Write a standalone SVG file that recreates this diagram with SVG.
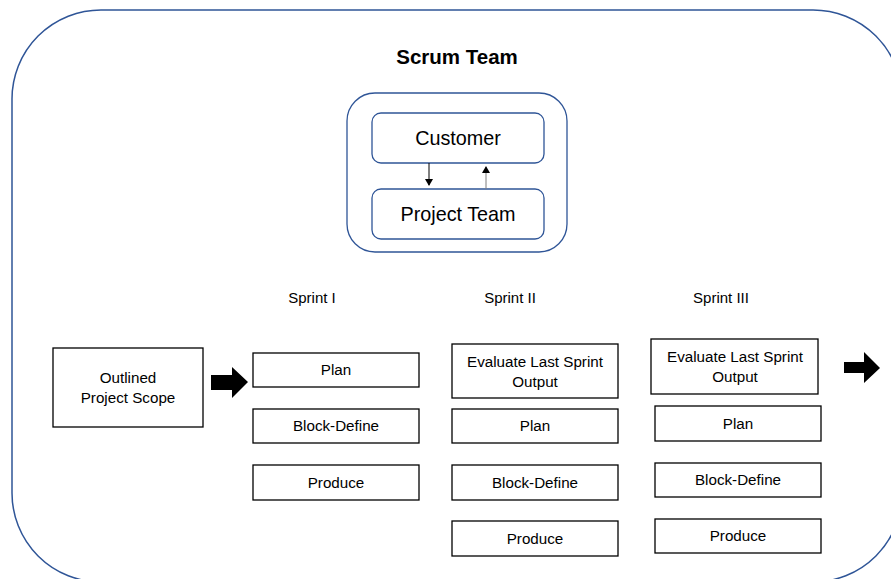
<svg xmlns="http://www.w3.org/2000/svg" width="891" height="579" viewBox="0 0 891 579">
  <style>
    .txt { font-family: "Liberation Sans", Arial, sans-serif; fill: #000; text-anchor: middle; }
    .box { fill: #fff; stroke: #000; stroke-width: 1.3; }
    .rbox { fill: #fff; stroke: #2F5597; stroke-width: 1.3; }
    .t14 { font-size: 15.2px; }
    .t19 { font-size: 19.8px; }
    .lbl { font-size: 15px; }
  </style>
  <defs>
    <marker id="ah" markerWidth="8" markerHeight="8" refX="6" refY="4" orient="auto" markerUnits="userSpaceOnUse">
      <path d="M0,0 L7,4 L0,8 Z" fill="#000"/>
    </marker>
  </defs>
  <rect width="891" height="579" fill="#fff"/>

  <!-- team boundary -->
  <g id="scrum-team">
    <rect x="12" y="10" width="890" height="572" rx="89" ry="89" fill="none" stroke="#2F5597" stroke-width="1.5"/>
    <text class="txt" x="457" y="64" font-size="20.5" font-weight="bold">Scrum Team</text>
  </g>

  <g id="core">
    <rect class="rbox" x="347" y="93" width="220" height="159" rx="28" ry="28"/>
  </g>
  <g id="customer">
    <rect class="rbox" x="372" y="113" width="172" height="50" rx="9" ry="9"/>
    <text class="txt t19" x="458" y="145">Customer</text>
  </g>
  <g id="project-team">
    <rect class="rbox" x="372" y="189" width="172" height="50" rx="9" ry="9"/>
    <text class="txt t19" x="458" y="221">Project Team</text>
  </g>

  <g id="sprint-labels">
    <text class="txt lbl" x="312" y="303">Sprint I</text>
    <text class="txt lbl" x="510" y="303">Sprint II</text>
    <text class="txt lbl" x="721" y="303">Sprint III</text>
  </g>

  <g id="scope">
    <rect class="box" x="53" y="348" width="150" height="79"/>
    <text class="txt t14" x="128" y="383">Outlined</text>
    <text class="txt t14" x="128" y="403">Project Scope</text>
  </g>

  <!-- Sprint I -->
  <g id="s1-plan">
    <rect class="box" x="253" y="353" width="166" height="34"/>
    <text class="txt t14" x="336" y="375">Plan</text>
  </g>
  <g id="s1-block">
    <rect class="box" x="253" y="409" width="166" height="34"/>
    <text class="txt t14" x="336" y="431">Block-Define</text>
  </g>
  <g id="s1-produce">
    <rect class="box" x="253" y="465" width="166" height="35"/>
    <text class="txt t14" x="336" y="488">Produce</text>
  </g>

  <!-- Sprint II -->
  <g id="s2-eval">
    <rect class="box" x="452" y="344" width="166" height="54"/>
    <text class="txt t14" x="535" y="367">Evaluate Last Sprint</text>
    <text class="txt t14" x="535" y="387">Output</text>
  </g>
  <g id="s2-plan">
    <rect class="box" x="452" y="409" width="166" height="34"/>
    <text class="txt t14" x="535" y="431">Plan</text>
  </g>
  <g id="s2-block">
    <rect class="box" x="452" y="465" width="166" height="35"/>
    <text class="txt t14" x="535" y="488">Block-Define</text>
  </g>
  <g id="s2-produce">
    <rect class="box" x="452" y="521" width="166" height="35"/>
    <text class="txt t14" x="535" y="544">Produce</text>
  </g>

  <!-- Sprint III -->
  <g id="s3-eval">
    <rect class="box" x="651" y="339" width="167" height="55"/>
    <text class="txt t14" x="735" y="362">Evaluate Last Sprint</text>
    <text class="txt t14" x="735" y="382">Output</text>
  </g>
  <g id="s3-plan">
    <rect class="box" x="655" y="406" width="166" height="35"/>
    <text class="txt t14" x="738" y="429">Plan</text>
  </g>
  <g id="s3-block">
    <rect class="box" x="655" y="463" width="166" height="34"/>
    <text class="txt t14" x="738" y="485">Block-Define</text>
  </g>
  <g id="s3-produce">
    <rect class="box" x="655" y="519" width="166" height="34"/>
    <text class="txt t14" x="738" y="541">Produce</text>
  </g>

  <g id="connectors">
    <line x1="429" y1="163" x2="429" y2="185" stroke="#000" stroke-width="1" marker-end="url(#ah)"/>
    <line x1="486" y1="189" x2="486" y2="167" stroke="#7f7f7f" stroke-width="1" marker-end="url(#ah)"/>
    <!-- block arrows -->
    <path d="M211,375 H232 V367 L248,382 L232,398 V390 H211 Z" fill="#000"/>
    <path d="M844,362 H864 V352 L880,368 L864,383 V373 H844 Z" fill="#000"/>
  </g>
</svg>
